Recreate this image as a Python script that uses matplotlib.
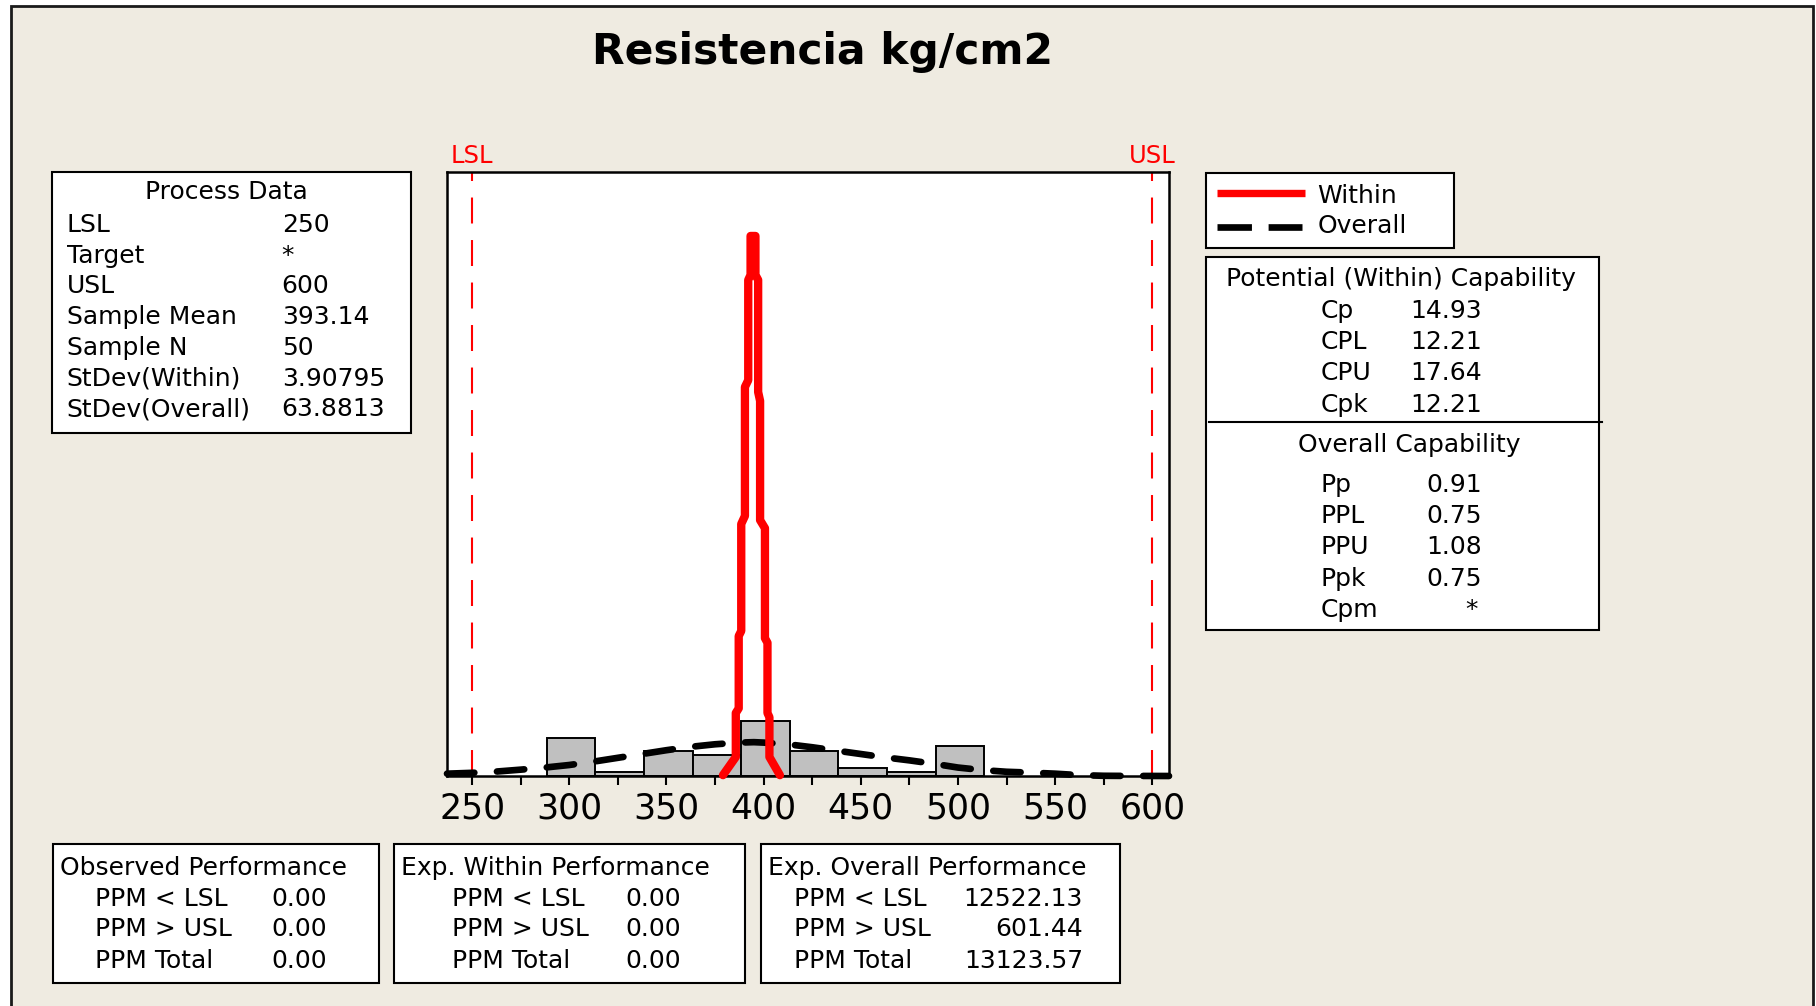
import numpy as np
import matplotlib
matplotlib.use('Agg')
import matplotlib.pyplot as plt
from matplotlib.patches import Rectangle
from matplotlib.lines import Line2D

# histogram of the 50 strength samples
bin_edges = [288.5, 313.5, 338.5, 363.5, 388.5, 413.5, 438.5, 463.5, 488.5, 513.5]
counts = [9, 1, 6, 5, 13, 6, 2, 1, 7]

# overall (long term) normal curve, in count units
overall_x = [237.1, 250, 262.5, 275, 287.5, 300, 312.5, 325, 337.5, 350, 362.5, 375,
             387.5, 395, 400, 412.5, 425, 437.5, 450, 462.5, 475, 487.5, 500, 512.5,
             525, 537.5, 550, 562.5, 575, 587.5, 600, 608.6]
overall_y = [0.55, 0.75, 1.05, 1.5, 2.0, 2.6, 3.4, 4.3, 5.2, 6.1, 6.9, 7.5,
             7.9, 8.0, 7.9, 7.5, 6.8, 6.0, 5.2, 4.4, 3.7, 2.9, 2.0, 1.4,
             1.0, 0.8, 0.55, 0.2, 0.05, 0.02, 0.01, 0.0]

# within (short term) curve, as drawn by the stats package
within_x = [379.1, 385.7, 385.7, 387.2, 387.2, 388.5, 388.5, 390.4, 390.4, 392.1, 392.1,
            393.3, 393.3, 395.8, 395.8, 397.2, 397.2, 398.2, 398.2, 400.7, 400.7,
            402.0, 402.0, 403.0, 403.0, 408.4]
within_y = [0.2, 4.5, 14.9, 16.0, 33.1, 34.3, 59.6, 61.5, 92.0, 93.6, 117.3,
            118.5, 127.7, 127.7, 118.5, 117.3, 90.8, 88.7, 60.5, 58.6, 32.6,
            31.5, 14.9, 13.9, 4.5, 0.2]

lsl, usl = 250, 600

process_labels = ['LSL', 'Target', 'USL', 'Sample Mean', 'Sample N', 'StDev(Within)', 'StDev(Overall)']
process_values = ['250', '*', '600', '393.14', '50', '3.90795', '63.8813']

within_cap_labels = ['Cp', 'CPL', 'CPU', 'Cpk']
within_cap_values = ['14.93', '12.21', '17.64', '12.21']
overall_cap_labels = ['Pp', 'PPL', 'PPU', 'Ppk', 'Cpm']
overall_cap_values = ['0.91', '0.75', '1.08', '0.75', '*']

ppm_labels = ['PPM < LSL', 'PPM > USL', 'PPM Total']
observed_ppm = ['0.00', '0.00', '0.00']
within_ppm = ['0.00', '0.00', '0.00']
overall_ppm = ['12522.13', '601.44', '13123.57']

W, H = 1816, 1006
plt.rcParams['font.family'] = 'DejaVu Sans'
plt.rcParams['lines.scale_dashes'] = False
FS = 18

fig = plt.figure(figsize=(W / 100, H / 100), dpi=100)
fig.patch.set_facecolor('white')


def px(x):
    return x / W


def py(y):
    return 1 - y / H


def box(x0, y0, x1, y1):
    fig.add_artist(Rectangle((px(x0), py(y1)), px(x1) - px(x0), py(y0) - py(y1),
                             transform=fig.transFigure, facecolor='white',
                             edgecolor='black', lw=1.5, zorder=1))


def txt(x, y, s, ha='left', **kw):
    fig.text(px(x), py(y), s, ha=ha, va='baseline', fontsize=kw.pop('fontsize', FS), **kw)


# beige panel with frame
fig.add_artist(Rectangle((px(11), -0.05), px(1812.7) - px(11), py(5.7) + 0.05,
                         transform=fig.transFigure, facecolor='#EFEBE1',
                         edgecolor='#1a1a1a', lw=2, zorder=-1))

txt(822, 63.7, 'Resistencia kg/cm2', ha='center', fontsize=30.5, fontweight='bold')

# main histogram panel
ax = fig.add_axes([px(447), py(776), px(1169) - px(447), py(171.7) - py(776)])
ax.set_facecolor('white')
ax.bar(bin_edges[:-1], counts, width=np.diff(bin_edges), align='edge',
       color='#C0C0C0', edgecolor='black', linewidth=1.4, zorder=2)
ax.plot(overall_x, overall_y, color='black', lw=4.8, dashes=(19.7, 16.3),
        dash_capstyle='round', zorder=3, clip_on=False)
ax.plot(within_x, within_y, color='#FF0000', lw=6, solid_joinstyle='round',
        solid_capstyle='round', zorder=4, clip_on=False)

ymax = 142.9
for spec, name in [(lsl, 'LSL'), (usl, 'USL')]:
    ax.plot([spec, spec], [0, ymax], color='#FF0000', lw=1.5, dashes=(18.7, 11.9), zorder=1.5)
    ax.annotate(name, xy=(spec, 1), xycoords=('data', 'axes fraction'),
                xytext=(0, 6.5), textcoords='offset points', ha='center',
                va='baseline', color='#FF0000', fontsize=17.5)

ax.set_xlim(237.1, 608.6)
ax.set_ylim(0, ymax)
ax.set_xticks(np.arange(250, 601, 50))
ax.set_xticks(np.arange(275, 600, 50), minor=True)
ax.set_yticks([])
ax.tick_params(which='both', direction='out', length=6.5, width=1.5, pad=4.5,
               labelsize=25)
for s in ax.spines.values():
    s.set_linewidth(1.8)

# process data table
box(51.7, 171.7, 411, 432.7)
txt(226, 199.3, 'Process Data', ha='center')
for i, (lab, val) in enumerate(zip(process_labels, process_values)):
    yb = 231.7 + i * 30.8
    txt(66.7, yb, lab)
    txt(281.7, yb, val)

# legend
box(1206, 172.7, 1454.3, 248.3)
fig.add_artist(Line2D([px(1217.3), px(1305)], [py(192.7), py(192.7)],
                      transform=fig.transFigure, color='#FF0000', lw=5.3,
                      solid_capstyle='butt', zorder=2))
txt(1317.3, 202.7, 'Within')
fig.add_artist(Line2D([px(1217.3), px(1301.7)], [py(226.7), py(226.7)],
                      transform=fig.transFigure, color='black', lw=4.8,
                      dashes=(24.8, 12), dash_capstyle='butt', zorder=2))
txt(1317.3, 232.7, 'Overall')

# capability table
box(1206, 256.7, 1599, 630)
fig.add_artist(Line2D([px(1209.3), px(1601.7)], [py(421.7), py(421.7)],
                      transform=fig.transFigure, color='black', lw=1.5, zorder=2))
txt(1401, 286, 'Potential (Within) Capability', ha='center')
for i, (lab, val) in enumerate(zip(within_cap_labels, within_cap_values)):
    yb = 317.7 + i * 31.3
    txt(1320.7, yb, lab)
    txt(1481.7, yb, val, ha='right')
txt(1409, 451.7, 'Overall Capability', ha='center')
for i, (lab, val) in enumerate(zip(overall_cap_labels, overall_cap_values)):
    yb = 491.7 + i * 31.3
    txt(1320.7, yb, lab)
    txt(1481.7 if val != '*' else 1478, yb, val, ha='right')

# performance tables
perf = [
    ((52.6, 378.8), 'Observed Performance', observed_ppm, 94.7, 271.5, 'left'),
    ((394.3, 745.0), 'Exp. Within Performance', within_ppm, 452.5, 625.8, 'left'),
    ((761.2, 1120.3), 'Exp. Overall Performance', overall_ppm, 794.1, 1083.1, 'right'),
]
for (x0, x1), title, vals, lab_x, val_x, val_ha in perf:
    box(x0, 844, x1, 982.7)
    txt(x0 + 7, 875, title)
    for i, (lab, val) in enumerate(zip(ppm_labels, vals)):
        yb = 905.5 + i * 31
        txt(lab_x, yb, lab)
        txt(val_x, yb, val, ha=val_ha)

fig.savefig('out.png', dpi=100, facecolor=fig.get_facecolor())
